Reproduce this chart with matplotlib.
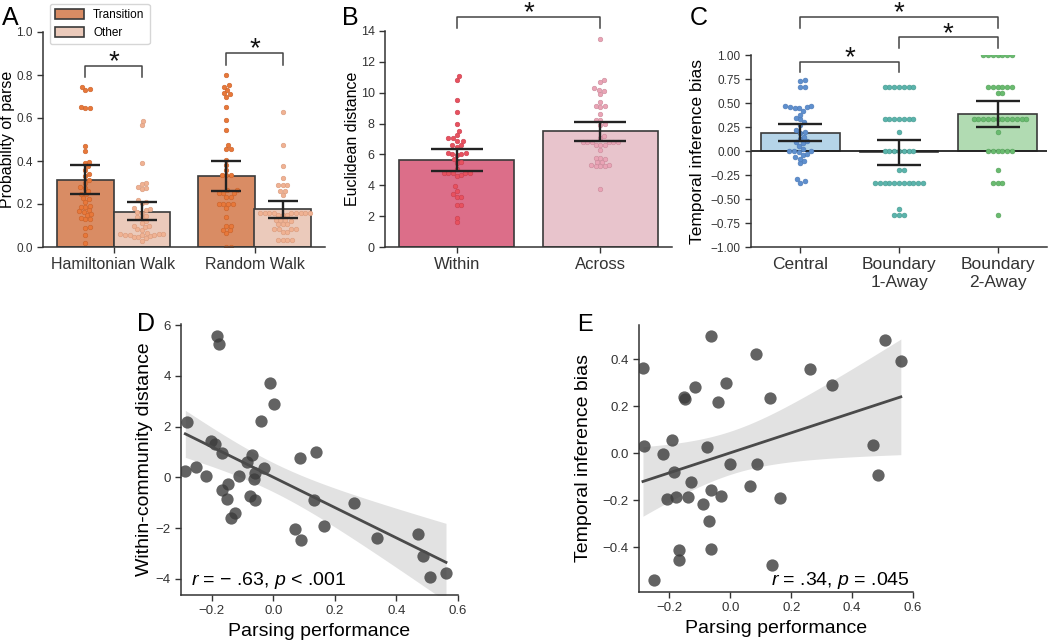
import numpy as np
import matplotlib
matplotlib.use("Agg")
import matplotlib.pyplot as plt
from matplotlib.patches import Patch

plt.rcParams['font.family'] = ['Liberation Sans', 'DejaVu Sans']
plt.rcParams['mathtext.fontset'] = 'custom'
plt.rcParams['mathtext.it'] = 'Liberation Sans:italic'
plt.rcParams['mathtext.rm'] = 'Liberation Sans'
plt.rcParams['axes.edgecolor'] = '#333333'
plt.rcParams['xtick.color'] = '#333333'
plt.rcParams['ytick.color'] = '#333333'

# ---- panel A: probability of parse ----
walks = ['Hamiltonian Walk', 'Random Walk']
ham_transition = [0.743, 0.736, 0.728, 0.652, 0.648, 0.645, 0.470, 0.445, 0.397, 0.39, 0.375, 0.358, 0.34,
                  0.33, 0.312, 0.30, 0.28, 0.275, 0.262, 0.247, 0.245, 0.228, 0.225, 0.21, 0.19, 0.188,
                  0.185, 0.17, 0.168, 0.165, 0.153, 0.15, 0.135, 0.132, 0.13, 0.095, 0.09, 0.057, 0.02]
ham_other = [0.587, 0.566, 0.389, 0.30, 0.293, 0.28, 0.275, 0.268, 0.218, 0.21, 0.205, 0.18, 0.175, 0.17,
             0.165, 0.16, 0.145, 0.14, 0.135, 0.122, 0.11, 0.10, 0.10, 0.095, 0.085, 0.08, 0.065, 0.06,
             0.06, 0.06, 0.058, 0.056, 0.055, 0.055, 0.05, 0.048, 0.045, 0.04, 0.03]
rand_transition = [0.80, 0.752, 0.746, 0.73, 0.715, 0.71, 0.696, 0.65, 0.589, 0.546, 0.474, 0.454, 0.454,
                   0.405, 0.38, 0.358, 0.333, 0.333, 0.333, 0.265, 0.265, 0.25, 0.25, 0.25, 0.234, 0.234,
                   0.2, 0.2, 0.2, 0.2, 0.18, 0.138, 0.099, 0.099, 0.079, 0.079, 0.064, 0.0, 0.0]
rand_other = [0.626, 0.474, 0.378, 0.321, 0.29, 0.29, 0.29, 0.26, 0.26, 0.243, 0.157, 0.157, 0.157, 0.157,
              0.157, 0.157, 0.157, 0.157, 0.157, 0.15, 0.147, 0.147, 0.126, 0.126, 0.126, 0.12, 0.107,
              0.107, 0.107, 0.084, 0.084, 0.084, 0.084, 0.071, 0.071, 0.033, 0.033, 0.033, 0.033]
a_mean_transition = [0.31, 0.33]
a_mean_other = [0.165, 0.175]
a_ci_transition = [(0.248, 0.38), (0.26, 0.40)]
a_ci_other = [(0.125, 0.208), (0.137, 0.215)]

# ---- panel B: euclidean distance ----
b_groups = ['Within', 'Across']
b_within = [11.08, 10.82, 9.55, 8.77, 7.95, 7.50, 7.24, 7.04, 7.04, 6.89, 6.89, 6.61, 6.61, 6.50, 6.09,
            6.09, 6.05, 6.05, 5.95, 5.70, 5.51, 5.45, 5.03, 4.80, 4.77, 4.77, 4.77, 4.77, 4.65, 4.60,
            3.93, 3.65, 3.46, 3.26, 3.26, 2.74, 2.74, 1.90, 1.60]
b_across = [13.5, 10.8, 10.67, 10.28, 10.2, 10.13, 9.92, 9.40, 9.16, 9.16, 9.07, 8.62, 8.25, 8.25, 7.99,
            7.9, 7.17, 7.04, 6.78, 6.78, 6.78, 6.78, 6.78, 6.78, 6.61, 6.61, 6.61, 6.31, 5.79, 5.79,
            5.70, 5.51, 5.51, 5.34, 5.34, 5.23, 5.23, 5.23, 3.76]
b_means = [5.65, 7.5]
b_ci = [(4.95, 6.33), (6.87, 8.1)]

# ---- panel C: temporal inference bias ----
c_groups = ['Central', 'Boundary\n1-Away', 'Boundary\n2-Away']
c_central = [0.735, 0.725, 0.67, 0.665, 0.47, 0.465, 0.46, 0.455, 0.45, 0.45, 0.42, 0.38, 0.34, 0.33,
             0.3, 0.27, 0.22, 0.2, 0.19, 0.15, 0.12, 0.1, 0.09, 0.08, 0.05, 0.02, 0.0, 0.0, 0.0, -0.01,
             -0.03, -0.04, -0.06, -0.08, -0.1, -0.13, -0.29, -0.31, -0.33]
c_away1 = [0.667] * 7 + [0.333] * 7 + [0.2] + [0.0] * 7 + [-0.2] * 2 + [-0.333] * 11 + [-0.6] + [-0.667] * 3
c_away2 = [1.0] * 7 + [0.667] * 6 + [0.6] * 2 + [0.333] * 12 + [0.2] + [0.0] * 6 + [-0.2] + [-0.333] * 3 + [-0.667]
c_means = [0.185, -0.01, 0.385]
c_ci = [(0.10, 0.285), (-0.145, 0.115), (0.245, 0.525)]

# ---- panels D, E: correlations with parsing performance ----
d_parse = [-0.182, -0.176, -0.012, 0.002, -0.040, -0.279, -0.203, -0.189, -0.168, -0.068, -0.087, 0.088,
           0.138, -0.031, -0.060, -0.063, -0.286, -0.250, -0.219, -0.113, -0.146, -0.167, -0.149, -0.076,
           -0.060, 0.131, 0.262, -0.125, -0.139, 0.164, 0.069, 0.089, 0.337, 0.471, 0.487, 0.509, 0.561]
d_dist = [5.58, 5.24, 3.73, 2.88, 2.22, 2.18, 1.45, 1.31, 0.97, 0.89, 0.61, 0.75, 1.01, 0.38, 0.16, -0.06,
          0.25, 0.42, 0.06, 0.07, -0.27, -0.50, -0.85, -0.72, -0.90, -0.89, -1.02, -1.39, -1.60, -1.91,
          -2.02, -2.48, -2.39, -2.24, -3.08, -3.92, -3.78]
e_parse = [-0.063, 0.085, 0.507, 0.560, -0.287, 0.261, -0.115, -0.013, 0.335, -0.153, -0.148, 0.130, -0.042,
           -0.193, -0.282, -0.078, 0.470, -0.222, -0.184, -0.002, 0.087, 0.485, -0.129, 0.065, -0.062,
           -0.208, -0.178, -0.140, -0.032, 0.162, -0.089, -0.069, -0.169, -0.167, -0.063, 0.136, -0.252]
e_bias = [0.497, 0.421, 0.482, 0.394, 0.363, 0.359, 0.282, 0.300, 0.292, 0.240, 0.232, 0.236, 0.216, 0.058,
          0.031, 0.025, 0.035, -0.004, -0.078, -0.048, -0.048, -0.094, -0.123, -0.140, -0.158, -0.195,
          -0.186, -0.186, -0.184, -0.190, -0.215, -0.289, -0.411, -0.454, -0.407, -0.475, -0.539]


def beeswarm(yp, d):
    # yp: sorted values in pixels, d: marker diameter in pixels
    placed = []
    for y in yp:
        cands = [0.0]
        for xq, yq in placed:
            dy = y - yq
            if abs(dy) < d:
                dx = np.sqrt(d * d - dy * dy)
                cands += [xq + dx, xq - dx]
        cands.sort(key=abs)
        for c in cands:
            if all((c - xq) ** 2 + (y - yq) ** 2 >= d * d - 1e-6 for xq, yq in placed):
                break
        placed.append((c, y))
    return np.array([p[0] for p in placed])


def swarm(ax, x0, vals, color, ec, d=4.8, s=12):
    bb = ax.get_window_extent()
    x0l, x1l = ax.get_xlim()
    y0l, y1l = ax.get_ylim()
    ppx = bb.width / (x1l - x0l)
    ppy = bb.height / (y1l - y0l)
    ys = np.sort(np.array(vals, dtype=float))
    offs = beeswarm(ys * ppy, d)
    ax.scatter(x0 + offs / ppx, ys, s=s, color=color, edgecolors=ec, linewidths=0.4, zorder=2)


def errbar(ax, x, lo, hi, cap):
    ax.errorbar([x], [(lo + hi) / 2], yerr=[[(hi - lo) / 2], [(hi - lo) / 2]], fmt='none',
                ecolor='#222222', elinewidth=1.7, capsize=cap, capthick=1.7, zorder=4)


def bracket(ax, x1, x2, ylow, ytop, star_off=-7, fs=20):
    ax.plot([x1, x1, x2, x2], [ylow, ytop, ytop, ylow], color='#444444', lw=1.1, clip_on=False, zorder=5)
    ax.annotate('*', ((x1 + x2) / 2, ytop), xytext=(0, star_off), textcoords='offset points',
                ha='center', va='bottom', fontsize=fs, color='#111111', annotation_clip=False)


def style(ax):
    for sp in ['top', 'right']:
        ax.spines[sp].set_visible(False)
    for sp in ['left', 'bottom']:
        ax.spines[sp].set_linewidth(1.1)
    ax.tick_params(length=4, width=1.0)


fig = plt.figure(figsize=(10.5, 6.44), dpi=100)
W, H = 1050.0, 644.0


def px_axes(l, t, r, b):
    return fig.add_axes([l / W, 1 - b / H, (r - l) / W, (b - t) / H])


EDGE = '#3a3a3a'

# ---------------- A ----------------
axA = px_axes(43, 32, 325, 247)
style(axA)
axA.set_xlim(-0.5, 1.5)
axA.set_ylim(0, 1.0)
xa = np.arange(len(walks))
axA.bar(xa - 0.2, a_mean_transition, width=0.4, color='#d98c64', edgecolor=EDGE, lw=1.2, zorder=1)
axA.bar(xa + 0.2, a_mean_other, width=0.4, color='#ebcabb', edgecolor=EDGE, lw=1.2, zorder=1)
for i, (tr, ot) in enumerate([(ham_transition, ham_other), (rand_transition, rand_other)]):
    swarm(axA, i - 0.2, tr, '#e8783a', '#c9622a', d=4.6, s=11)
    swarm(axA, i + 0.2, ot, '#f0b293', '#d99a7c', d=4.6, s=11)
    errbar(axA, i - 0.2, *a_ci_transition[i], cap=10.5)
    errbar(axA, i + 0.2, *a_ci_other[i], cap=10.5)
axA.set_xticks(xa)
axA.set_xticklabels(walks, fontsize=11.5)
axA.set_yticks(np.arange(0, 1.01, 0.2))
axA.set_yticklabels(['%.1f' % v for v in np.arange(0, 1.01, 0.2)], fontsize=8.5)
axA.set_ylabel('Probability of parse', fontsize=11.5)
axA.yaxis.set_label_coords(-0.1, 0.5)
bracket(axA, -0.2, 0.2, 0.79, 0.843)
bracket(axA, 0.8, 1.2, 0.847, 0.904)
axA.legend(handles=[Patch(facecolor='#d98c64', edgecolor=EDGE, lw=1.2, label='Transition'),
                    Patch(facecolor='#ebcabb', edgecolor=EDGE, lw=1.2, label='Other')],
           loc='upper left', bbox_to_anchor=(0.025, 1.13), fontsize=8.5, frameon=True, edgecolor='#cccccc',
           handlelength=2.4, handleheight=0.9, borderpad=0.45, labelspacing=0.45, borderaxespad=0,
           handletextpad=0.8)

# ---------------- B ----------------
axB = px_axes(385, 31, 672, 247)
style(axB)
axB.set_xlim(-0.5, 1.5)
axB.set_ylim(0, 14)
axB.bar([0, 1], b_means, width=0.8, color=['#dc6e89', '#e8c4cc'], edgecolor=EDGE, lw=1.2, zorder=1)
swarm(axB, 0, b_within, '#e8515f', '#c94050', d=4.6, s=11)
swarm(axB, 1, b_across, '#eaa4b6', '#c98a9a', d=4.6, s=11)
for i in range(2):
    errbar(axB, i, *b_ci[i], cap=19)
axB.set_xticks([0, 1])
axB.set_xticklabels(b_groups, fontsize=12)
axB.set_yticks(np.arange(0, 15, 2))
axB.tick_params(axis='y', labelsize=9)
axB.set_ylabel('Euclidean distance', fontsize=11.5)
axB.yaxis.set_label_coords(-0.088, 0.5)
bracket(axB, 0, 1, 14.2, 14.93)

# ---------------- C ----------------
axC = px_axes(751, 55, 1047, 247)
style(axC)
axC.set_xlim(-0.5, 2.5)
axC.set_ylim(-1, 1.0)
axC.bar([0, 1, 2], c_means, width=0.8, color=['#b5d4e8', '#b7e0dc', '#b1dbb2'], edgecolor=EDGE, lw=1.2,
        zorder=1)
axC.axhline(0, color='#222222', lw=1.3, zorder=1.5)
swarm(axC, 0, c_central, '#5e8fce', '#4a78b5', d=4.8, s=12)
swarm(axC, 1, c_away1, '#5ab4ac', '#46998f', d=4.8, s=12)
swarm(axC, 2, c_away2, '#69bb6f', '#55a05a', d=4.8, s=12)
for i in range(3):
    errbar(axC, i, *c_ci[i], cap=16)
axC.set_xticks([0, 1, 2])
axC.set_xticklabels(c_groups, fontsize=12.5)
yt = np.arange(-1, 1.01, 0.25)
axC.set_yticks(yt)
axC.set_yticklabels(['%.2f' % v if v >= 0 else '\u2212%.2f' % -v for v in yt], fontsize=8.5)
axC.set_ylabel('Temporal inference bias', fontsize=12.5)
axC.yaxis.set_label_coords(-0.155, 0.5)
bracket(axC, 0, 2, 1.285, 1.40)
bracket(axC, 1, 2, 1.076, 1.184)
bracket(axC, 0, 1, 0.826, 0.93)


# ---------------- D & E ----------------
def regplot(ax, x, y):
    x = np.array(x)
    y = np.array(y)
    n = len(x)
    slope, icpt = np.polyfit(x, y, 1)
    xs = np.linspace(x.min(), x.max(), 100)
    yhat = icpt + slope * xs
    resid = y - (icpt + slope * x)
    s = np.sqrt(np.sum(resid ** 2) / (n - 2))
    se = s * np.sqrt(1.0 / n + (xs - x.mean()) ** 2 / np.sum((x - x.mean()) ** 2))
    t = 2.03
    ax.fill_between(xs, yhat - t * se, yhat + t * se, color='#e2e2e2', lw=0, zorder=1)
    ax.scatter(x, y, s=78, color='#3c3c3c', alpha=0.8, lw=0, zorder=2)
    ax.plot(xs, yhat, color='#4a4a4a', lw=2, zorder=3)


axD = px_axes(181, 324, 458, 595)
style(axD)
regplot(axD, d_parse, d_dist)
axD.set_xlim(-0.3, 0.6)
axD.set_ylim(-4.63, 6.04)
axD.set_xticks(np.arange(-0.2, 0.61, 0.2))
axD.set_yticks(np.arange(-4, 7, 2))
axD.tick_params(labelsize=9.5)
axD.set_xlabel('Parsing performance', fontsize=14)
axD.set_ylabel('Within-community distance', fontsize=14)
axD.yaxis.set_label_coords(-0.1, 0.5)
axD.text(-0.268, -4.04, '$r$ = \u2212 .63, $p$ < .001', fontsize=14, va='center', ha='left')

axE = px_axes(639, 325, 913, 592)
style(axE)
regplot(axE, e_parse, e_bias)
axE.set_xlim(-0.3, 0.6)
axE.set_ylim(-0.59, 0.545)
axE.set_xticks(np.arange(-0.2, 0.61, 0.2))
axE.set_yticks(np.arange(-0.4, 0.41, 0.2))
axE.tick_params(labelsize=9.5)
axE.set_xlabel('Parsing performance', fontsize=14)
axE.set_ylabel('Temporal inference bias', fontsize=14)
axE.yaxis.set_label_coords(-0.17, 0.5)
axE.text(0.59, -0.542, '$r$ = .34, $p$ = .045', fontsize=14, va='center', ha='right')

# panel letters
for lab, x, y, fs in [('A', 2, 6, 18), ('B', 342, 6, 18), ('C', 690, 6, 18), ('D', 137, 312, 18),
                      ('E', 577, 314, 17)]:
    fig.text(x / W, 1 - y / H, lab, fontsize=fs, ha='left', va='top')

fig.savefig('out.png', dpi=100)
